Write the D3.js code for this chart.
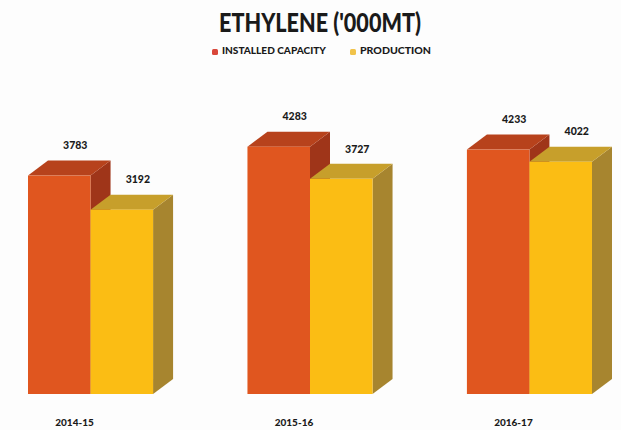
<!DOCTYPE html>
<html>
<head>
<meta charset="utf-8">
<script src="https://cdn.jsdelivr.net/npm/d3@7"></script>
<style>
  html, body { margin: 0; padding: 0; background: #fdfdfd; }
  svg { display: block; }
  text { font-family: Lato, "Open Sans", sans-serif; font-weight: 700; fill: #1a1a1a; }
</style>
</head>
<body>
<svg id="chart" width="621" height="430"></svg>
<script>
// Ethylene capacity vs. production, thousand metric tonnes
const years = ["2014-15", "2015-16", "2016-17"];
const seriesNames = ["INSTALLED CAPACITY", "PRODUCTION"];
const installedCapacity = [3783, 4283, 4233];
const production = [3192, 3727, 4022];

const W = 621, H = 430;
const svg = d3.select("#chart");

// Face colours: front, top, side
const palette = {
  "INSTALLED CAPACITY": { front: "#e0561f", top: "#b7421c", side: "#9f3519", legend: "#d9473a" },
  "PRODUCTION":         { front: "#fbbd14", top: "#c79f2b", side: "#a7852f", legend: "#f1c34a" }
};

const depthX = 20, depthY = -15;

const x0 = d3.scaleBand().domain(years).range([28, 592]).paddingInner(0.43).paddingOuter(0);
const x1 = d3.scaleBand().domain(seriesNames).range([0, x0.bandwidth()]).padding(0);
const y = d3.scaleLinear().domain([0, 5000]).range([394, 105.3]);

const rows = years.map((yr, i) => ({
  year: yr,
  values: [
    { key: seriesNames[0], value: installedCapacity[i] },
    { key: seriesNames[1], value: production[i] }
  ]
}));

// Title
svg.append("text")
  .attr("x", 320).attr("y", 32)
  .attr("text-anchor", "middle")
  .style("font-size", "26px")
  .style("font-weight", 900)
  .attr("textLength", 202)
  .attr("lengthAdjust", "spacingAndGlyphs")
  .text("ETHYLENE ('000MT)");

// Legend
const legendItems = [
  { key: seriesNames[0], x: 215 },
  { key: seriesNames[1], x: 353 }
];
const legend = svg.append("g").attr("class", "legend");
legendItems.forEach(it => {
  legend.append("rect")
    .attr("x", it.x - 3).attr("y", 49).attr("width", 6).attr("height", 6).attr("rx", 1.5)
    .attr("fill", palette[it.key].legend);
  legend.append("text")
    .attr("x", it.x + 7).attr("y", 52)
    .attr("dominant-baseline", "middle")
    .style("font-size", "9.5px")
    .style("font-weight", 900)
    .attr("textLength", it.key === seriesNames[0] ? 104 : 71)
    .attr("lengthAdjust", "spacingAndGlyphs")
    .text(it.key);
});

// Bars with a simple extruded box look
const groups = svg.append("g").selectAll("g.group")
  .data(rows).join("g")
  .attr("class", "group")
  .attr("transform", d => `translate(${x0(d.year)},0)`);

groups.each(function(row) {
  const g = d3.select(this);
  row.values.forEach(v => {
    const c = palette[v.key];
    const left = x1(v.key), right = left + x1.bandwidth();
    const top = y(v.value), base = y(0);
    // side face
    g.append("path")
      .attr("d", `M${right},${top} L${right + depthX},${top + depthY} L${right + depthX},${base + depthY} L${right},${base} Z`)
      .attr("fill", c.side);
    // top face
    g.append("path")
      .attr("d", `M${left},${top} L${left + depthX},${top + depthY} L${right + depthX},${top + depthY} L${right},${top} Z`)
      .attr("fill", c.top);
    // front face
    g.append("rect")
      .attr("x", left).attr("y", top)
      .attr("width", x1.bandwidth()).attr("height", base - top)
      .attr("fill", c.front);
    // value label
    g.append("text")
      .attr("x", left + x1.bandwidth() / 2 + 16)
      .attr("y", top - 29)
      .attr("text-anchor", "middle")
      .attr("dominant-baseline", "middle")
      .style("font-size", "10.5px")
      .style("font-weight", 900)
      .text(v.value);
  });
});

// Category labels
svg.append("g").selectAll("text.cat")
  .data(years).join("text")
  .attr("class", "cat")
  .attr("x", d => x0(d) + x0.bandwidth() / 2 - 16)
  .attr("y", 423)
  .attr("text-anchor", "middle")
  .attr("dominant-baseline", "middle")
  .style("font-size", "10px")
  .style("font-weight", 900)
  .text(d => d);
</script>
</body>
</html>
